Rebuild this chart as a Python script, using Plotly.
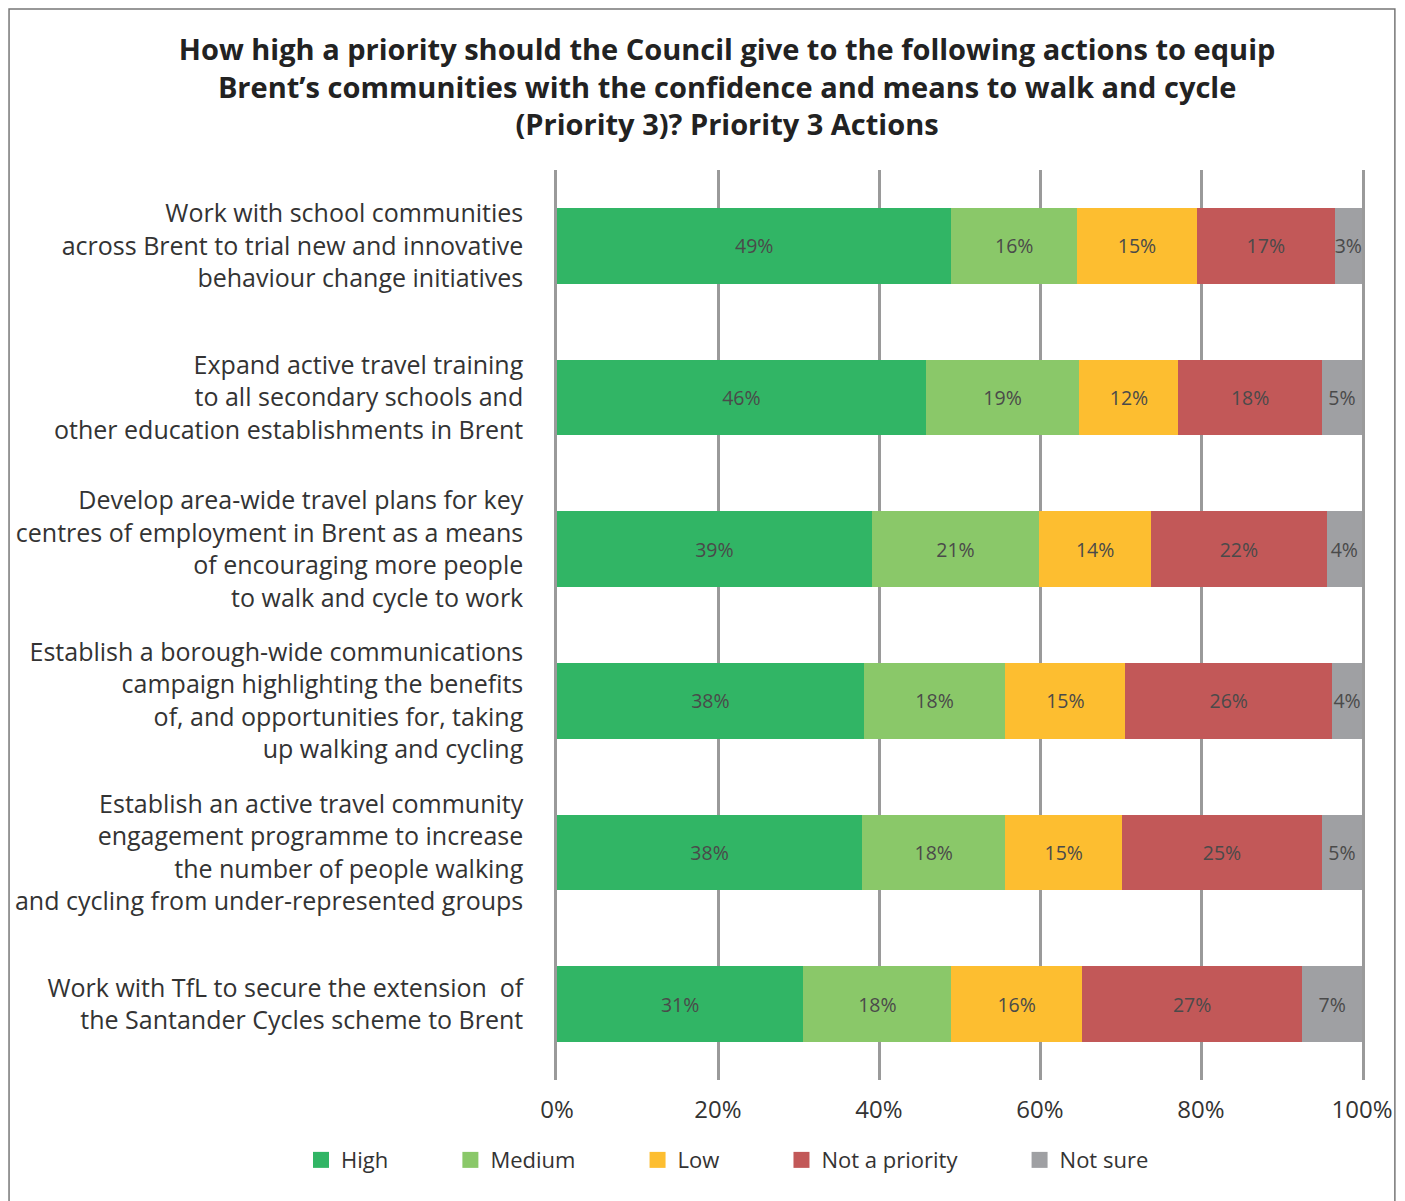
import plotly.graph_objects as go

categories = [
    "Work with school communities<br>across Brent to trial new and innovative<br>behaviour change initiatives",
    "Expand active travel training<br>to all secondary schools and<br>other education establishments in Brent",
    "Develop area-wide travel plans for key<br>centres of employment in Brent as a means<br>of encouraging more people<br>to walk and cycle to work",
    "Establish a borough-wide communications<br>campaign highlighting the benefits<br>of, and opportunities for, taking<br>up walking and cycling",
    "Establish an active travel community<br>engagement programme to increase<br>the number of people walking<br>and cycling from under-represented groups",
    "Work with TfL to secure the extension  of<br>the Santander Cycles scheme to Brent",
]

series_names = ["High", "Medium", "Low", "Not a priority", "Not sure"]
colors = ["#31B565", "#8AC869", "#FDBE30", "#C25858", "#9FA0A3"]

high = [49.0, 45.8, 39.1, 38.1, 37.9, 30.6]
medium = [15.6, 19.1, 20.8, 17.6, 17.8, 18.4]
low = [14.9, 12.3, 13.9, 14.9, 14.5, 16.2]
not_priority = [17.1, 17.8, 21.8, 25.7, 24.8, 27.4]
not_sure = [3.4, 5.0, 4.4, 3.7, 5.0, 7.4]

high_labels = ["49%", "46%", "39%", "38%", "38%", "31%"]
medium_labels = ["16%", "19%", "21%", "18%", "18%", "18%"]
low_labels = ["15%", "12%", "14%", "15%", "15%", "16%"]
not_priority_labels = ["17%", "18%", "22%", "26%", "25%", "27%"]
not_sure_labels = ["3%", "5%", "4%", "4%", "5%", "7%"]

x_ticks = [0, 20, 40, 60, 80, 100]
x_tick_labels = ["0%", "20%", "40%", "60%", "80%", "100%"]

values = [high, medium, low, not_priority, not_sure]
labels = [high_labels, medium_labels, low_labels, not_priority_labels, not_sure_labels]

FONT = "Open Sans"
fig = go.Figure()
for name, vals, labs, col in zip(series_names, values, labels, colors):
    fig.add_trace(go.Bar(
        y=categories, x=vals, name=name, orientation="h",
        marker=dict(color=col, line=dict(width=0)),
        text=labs, textposition="inside", insidetextanchor="middle",
        textangle=0, constraintext="none",
        textfont=dict(family=FONT, size=19.5, color="#4a4a4a"),
        width=0.5, showlegend=False,
    ))
    # legend proxy with large square markers
    fig.add_trace(go.Scatter(
        x=[None], y=[None], mode="markers", name=name + "\u00a0" * 10,
        marker=dict(symbol="square", size=22, color=col),
        showlegend=True,
    ))

fig.update_layout(
    barmode="stack",
    width=1405, height=1201,
    margin=dict(l=557, r=40, t=170, b=121),
    paper_bgcolor="white", plot_bgcolor="white",
    font=dict(family=FONT, color="#333333"),
    title=dict(
        text="<b>How high a priority should the Council give to the following actions to equip<br>"
             "Brent’s communities with the confidence and means to walk and cycle<br>"
             "(Priority 3)? Priority 3 Actions</b>",
        x=0.5175, xref="container", xanchor="center",
        y=0.95, yref="container", yanchor="top",
        font=dict(family=FONT, size=29, color="#222222"),
    ),
    xaxis=dict(
        range=[0, 100], tickvals=x_ticks, ticktext=x_tick_labels,
        showgrid=True, gridcolor="#9a9a9a", gridwidth=2.5,
        zeroline=False, showline=False, ticks="",
        tickfont=dict(family=FONT, size=24, color="#333333"),
        ticklabelstandoff=13,
        fixedrange=True,
    ),
    yaxis=dict(
        autorange="reversed", showgrid=False, zeroline=False,
        showline=True, mirror=True, linecolor="#9a9a9a", linewidth=2.5,
        ticks="", ticklabelstandoff=26,
        tickfont=dict(family=FONT, size=25, color="#333333"),
    ),
    legend=dict(
        orientation="h", x=-0.318, xanchor="left", y=-0.088, yanchor="middle",
        font=dict(family=FONT, size=22, color="#333333"),
        itemsizing="trace", traceorder="normal",
    ),
    shapes=[dict(
        type="rect", xref="paper", yref="paper",
        x0=-(557 - 7) / 808, x1=1 + (1398 - 1365) / 808,
        y0=-(1201 - 1080 + 20) / 910, y1=1 + (170 - 9) / 910,
        line=dict(color="#777777", width=1.5), fillcolor="rgba(0,0,0,0)",
        layer="below",
    )],
)

fig.write_html("out.html", config={"displayModeBar": False},
               post_script="document.body.style.margin='0';")
